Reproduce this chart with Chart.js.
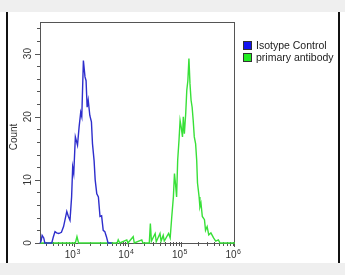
<!DOCTYPE html>
<html>
<head>
<meta charset="utf-8">
<script src="https://cdn.jsdelivr.net/npm/chart.js@4"></script>
<style>
  html, body { margin: 0; padding: 0; background: #efefef; }
  canvas { display: block; }
</style>
</head>
<body>
<canvas id="histChart" width="345" height="275"></canvas>
<script>
// log10 of fluorescence intensity, and event counts
const isotypeLogX = [2.36, 2.38, 2.40, 2.43, 2.45, 2.58, 2.61, 2.64, 2.67, 2.71, 2.76, 2.80, 2.86, 2.89, 2.92,
  2.95, 2.97, 2.99, 3.02, 3.06, 3.09, 3.12, 3.14, 3.17, 3.20, 3.22, 3.24, 3.26, 3.29, 3.32, 3.34, 3.37,
  3.39, 3.42, 3.45, 3.48, 3.51, 3.54, 3.57, 3.60, 3.63, 3.70];
const isotypeCount = [0, 0.3, 1.2, 0.8, 0, 0, 1.0, 1.8, 1.6, 1.5, 1.7, 2.6, 5.0, 4.2, 3.6,
  7.3, 12.0, 11.0, 16.8, 15.5, 18.4, 20.7, 20.0, 28.9, 26.3, 25.7, 21.5, 22.6, 20.2, 19.2, 15.7, 13.0,
  10.0, 7.8, 7.3, 4.2, 4.3, 2.0, 1.8, 1.0, 0, 0];

const primaryLogX = [2.36, 3.02, 3.05, 3.08, 3.80, 3.82, 3.85, 3.98, 4.00, 4.10, 4.12, 4.26, 4.28, 4.40,
  4.42, 4.44, 4.51, 4.53, 4.60, 4.62, 4.66, 4.68, 4.76, 4.79, 4.82, 4.85, 4.87, 4.89, 4.91, 4.93, 4.955,
  4.975, 4.995, 5.02, 5.035, 5.055, 5.08, 5.10, 5.12, 5.14, 5.16, 5.18, 5.20, 5.22, 5.24, 5.265, 5.285,
  5.30, 5.33, 5.345, 5.365, 5.39, 5.43, 5.45, 5.48, 5.51, 5.55, 5.60, 5.64, 5.69, 5.72, 6.0];
const primaryCount = [0, 0, 1.0, 0, 0, 0.5, 0, 0.5, 0, 1.0, 0, 0.5, 0, 0,
  3.1, 0.3, 1.5, 0.2, 1.5, 0.3, 1.2, 0.3, 1.5, 0.8, 4.2, 7.3, 11.0, 9.3, 7.3, 13.1, 16.3,
  19.4, 18.4, 16.8, 20.0, 17.3, 20.5, 24.2, 25.7, 29.2, 25.2, 22.6, 21.5, 19.4, 16.8, 15.7, 13.1,
  9.5, 7.3, 5.7, 6.3, 4.2, 3.7, 2.0, 2.6, 1.3, 1.6, 0.8, 0.3, 0.5, 0, 0];

const seriesLabels = ["Isotype Control", "primary antibody"];
const xMajorExp = [3, 4, 5, 6];
const yMajorTicks = [0, 10, 20, 30];
const yMinorTicks = [2, 4, 6, 8, 12, 14, 16, 18, 22, 24, 26, 28, 32, 34];
const yTitle = "Count";

const FONT = "'Liberation Sans', Arial, sans-serif";

function toPoints(logs, counts) {
  return logs.map((e, i) => ({ x: Math.pow(10, e), y: counts[i] }));
}

const frameAndAxes = {
  id: "frameAndAxes",
  beforeDraw(chart) {
    const c = chart.ctx;
    c.save();
    c.fillStyle = "#efefef";
    c.fillRect(0, 0, chart.width, chart.height);
    c.fillStyle = "#ffffff";
    c.fillRect(0, 12, chart.width, 251);
    c.strokeStyle = "#111";
    c.lineWidth = 2;
    c.beginPath();
    c.moveTo(7, 12); c.lineTo(7, 263);
    c.moveTo(339, 12); c.lineTo(339, 263);
    c.stroke();
    c.restore();
  },
  beforeDatasetsDraw(chart) {
    const c = chart.ctx, a = chart.chartArea;
    const xs = chart.scales.x, ys = chart.scales.y;
    c.save();
    c.strokeStyle = "#555";
    c.lineWidth = 1;
    c.strokeRect(a.left + 0.5, a.top + 0.5, a.right - a.left - 1, a.bottom - a.top);

    // y ticks, pointing out
    c.beginPath();
    yMajorTicks.forEach(v => {
      const y = Math.round(ys.getPixelForValue(v)) + 0.5;
      c.moveTo(a.left - 5, y); c.lineTo(a.left, y);
    });
    yMinorTicks.forEach(v => {
      const y = Math.round(ys.getPixelForValue(v)) + 0.5;
      c.moveTo(a.left - 3, y); c.lineTo(a.left, y);
    });
    // x ticks, log minors
    for (let d = 2; d <= 5; d++) {
      for (let m = 1; m <= 9; m++) {
        const v = m * Math.pow(10, d);
        if (v < xs.min || v > xs.max) continue;
        const x = Math.round(xs.getPixelForValue(v)) + 0.5;
        c.moveTo(x, a.bottom - 1); c.lineTo(x, a.bottom + (m === 1 ? 4 : 3));
      }
    }
    const xr = Math.round(xs.getPixelForValue(1e6)) - 0.5;
    c.moveTo(xr, a.bottom); c.lineTo(xr, a.bottom + 4);
    c.stroke();

    c.fillStyle = "#333";
    // y labels, rotated
    c.font = "10px " + FONT;
    c.textAlign = "center";
    c.textBaseline = "middle";
    yMajorTicks.forEach(v => {
      c.save();
      c.translate(28, ys.getPixelForValue(v));
      c.rotate(-Math.PI / 2);
      c.fillText(String(v), 0, 0);
      c.restore();
    });
    c.save();
    c.translate(14, 137);
    c.rotate(-Math.PI / 2);
    c.fillText(yTitle, 0, 0);
    c.restore();

    // x labels 10^n
    c.textBaseline = "alphabetic";
    c.textAlign = "left";
    xMajorExp.forEach(e => {
      const x = xs.getPixelForValue(Math.pow(10, e));
      c.font = "10px " + FONT;
      const wb = c.measureText("10").width;
      c.font = "7px " + FONT;
      const we = c.measureText(String(e)).width;
      const x0 = x - 2 - (wb + we) / 2;
      c.font = "10px " + FONT;
      c.fillText("10", x0, 258);
      c.font = "7px " + FONT;
      c.fillText(String(e), x0 + wb + 0.5, 254);
    });

    // legend
    const colors = chart.data.datasets.map(ds => ds.legendColor);
    c.font = "10.5px " + FONT;
    c.textBaseline = "middle";
    seriesLabels.forEach((label, i) => {
      const y = 41 + i * 12;
      c.fillStyle = colors[i];
      c.fillRect(243, y, 9, 9);
      c.strokeStyle = "#333";
      c.strokeRect(243.5, y + 0.5, 8, 8);
      c.fillStyle = "#222";
      c.fillText(label, 256, y + 5);
    });
    c.restore();
  },
};

new Chart(document.getElementById("histChart"), {
  type: "line",
  data: {
    datasets: [
      { label: seriesLabels[0], data: toPoints(isotypeLogX, isotypeCount), borderColor: "#2e2ecc", legendColor: "#1414f0", borderWidth: 1.4 },
      { label: seriesLabels[1], data: toPoints(primaryLogX, primaryCount), borderColor: "#38e038", legendColor: "#22ee22", borderWidth: 1.4 },
    ],
  },
  options: {
    responsive: false,
    animation: false,
    devicePixelRatio: 1,
    layout: { padding: { left: 40, top: 22, right: 110, bottom: 32 } },
    elements: { point: { radius: 0 }, line: { tension: 0 } },
    datasets: { line: { clip: 4 } },
    plugins: { legend: { display: false }, tooltip: { enabled: false } },
    scales: {
      x: { type: "logarithmic", min: Math.pow(10, 2.36), max: 1e6, display: false },
      y: { type: "linear", min: 0, max: 35, display: false },
    },
  },
  plugins: [frameAndAxes],
});
</script>
</body>
</html>
